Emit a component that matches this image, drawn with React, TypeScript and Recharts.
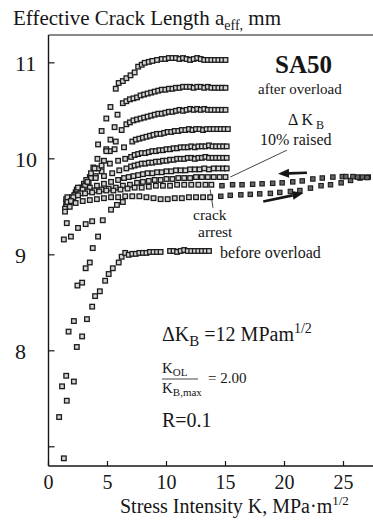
import { ScatterChart, Scatter, XAxis, YAxis, ReferenceLine } from 'recharts'

const kTicks = [0, 5, 10, 15, 20, 25]
const aTicks = [7, 8, 9, 10, 11]

type Pt = [number, number]

// before overload
const beforeOverload: Pt[] = [
  [0.9, 7.31], [1.55, 7.48], [2.15, 7.68], [2.4, 8.04], [2.85, 8.15], [3.26, 8.33], [3.7, 8.46],
  [3.95, 8.57], [4.35, 8.62], [4.8, 8.73], [5.1, 8.8], [5.45, 8.86], [5.95, 8.92], [6.2, 8.98],
  [6.5, 9.02], [6.8, 9.0], [7.1, 9.01], [7.4, 9.01], [7.7, 9.02], [8.0, 9.02], [8.3, 9.02],
  [8.6, 9.03], [8.9, 9.03], [9.2, 9.03], [9.5, 9.03], [10.3, 9.04], [10.6, 9.04], [10.9, 9.03],
  [11.2, 9.04], [11.5, 9.05], [11.8, 9.04], [12.1, 9.04], [12.4, 9.04], [12.7, 9.04], [13.0, 9.04],
  [13.3, 9.04], [13.6, 9.04],
]

// scattered early points
const risePoints: Pt[] = [
  [1.3, 6.88], [1.15, 7.63], [1.5, 7.74], [1.7, 8.2], [2.15, 8.31], [2.45, 8.68], [2.85, 8.71],
  [3.15, 8.86], [3.5, 8.92], [3.75, 9.07], [4.2, 9.19], [1.3, 9.16], [1.9, 9.19], [1.55, 9.33],
  [2.5, 9.28], [3.15, 9.32], [3.7, 9.35], [4.6, 9.36], [5.3, 9.47], [5.8, 9.52], [6.3, 9.55],
]

// after overload curves
const after1: Pt[] = [
  [1.5, 9.5], [2.0, 9.6], [2.6, 9.68], [3.1, 9.74], [3.5, 9.81], [3.8, 9.91], [4.2, 10.15],
  [4.5, 10.29], [4.9, 10.42], [5.25, 10.54], [5.7, 10.73], [5.95, 10.79], [6.3, 10.81], [6.6, 10.84],
  [6.95, 10.87], [7.3, 10.9], [7.6, 10.96], [7.9, 10.98], [8.15, 11.0], [8.5, 11.01], [8.8, 11.02],
  [9.2, 11.03], [9.6, 11.04], [9.9, 11.04], [10.2, 11.05], [10.5, 11.05], [10.8, 11.05], [11.1, 11.04],
  [11.4, 11.05], [11.7, 11.04], [12.0, 11.03], [12.3, 11.04], [12.6, 11.05], [12.9, 11.04], [13.2, 11.03],
  [13.5, 11.03], [13.8, 11.03], [14.1, 11.03], [14.4, 11.03], [14.7, 11.03], [15.0, 11.03],
]
const after2: Pt[] = [
  [1.6, 9.52], [2.2, 9.62], [2.8, 9.7], [3.4, 9.76], [4.0, 9.82], [4.5, 9.87], [4.9, 10.1],
  [5.25, 10.2], [5.6, 10.33], [5.85, 10.46], [6.3, 10.58], [6.6, 10.6], [6.9, 10.62], [7.2, 10.63],
  [7.5, 10.64], [7.8, 10.66], [8.1, 10.67], [8.4, 10.68], [8.7, 10.69], [9.0, 10.7], [9.3, 10.71],
  [9.6, 10.72], [9.9, 10.72], [10.2, 10.73], [10.5, 10.73], [10.8, 10.74], [11.1, 10.74], [11.4, 10.75],
  [11.7, 10.75], [12.0, 10.75], [12.3, 10.74], [12.6, 10.75], [12.9, 10.75], [13.2, 10.74], [13.5, 10.75],
  [13.8, 10.74], [14.1, 10.74], [14.4, 10.74], [14.7, 10.74], [15.0, 10.74],
]
const after3: Pt[] = [
  [1.5, 9.55], [2.3, 9.65], [3.0, 9.74], [3.6, 9.8], [4.2, 9.9], [4.7, 9.98], [5.2, 10.08],
  [5.7, 10.18], [6.2, 10.3], [6.6, 10.36], [6.9, 10.38], [7.2, 10.4], [7.5, 10.41], [7.8, 10.42],
  [8.1, 10.43], [8.4, 10.44], [8.7, 10.45], [9.0, 10.46], [9.3, 10.47], [9.6, 10.47], [9.9, 10.48],
  [10.2, 10.49], [10.5, 10.49], [10.8, 10.5], [11.1, 10.51], [11.4, 10.5], [11.7, 10.51], [12.0, 10.52],
  [12.3, 10.51], [12.6, 10.52], [12.9, 10.51], [13.2, 10.52], [13.5, 10.51], [13.8, 10.51], [14.1, 10.51],
  [14.4, 10.51], [14.7, 10.51], [15.0, 10.51],
]
const after4: Pt[] = [
  [1.6, 9.56], [2.4, 9.66], [3.1, 9.72], [3.6, 9.85], [4.15, 10.0], [4.9, 10.08], [5.6, 10.1],
  [6.4, 10.12], [7.1, 10.18], [7.4, 10.2], [7.7, 10.21], [8.0, 10.22], [8.3, 10.23], [8.6, 10.24],
  [8.9, 10.25], [9.2, 10.26], [9.5, 10.26], [9.8, 10.27], [10.1, 10.28], [10.4, 10.28], [10.7, 10.29],
  [11.0, 10.29], [11.3, 10.3], [11.6, 10.3], [11.9, 10.31], [12.2, 10.3], [12.5, 10.31], [12.8, 10.31],
  [13.1, 10.3], [13.4, 10.31], [13.7, 10.31], [14.0, 10.31], [14.3, 10.31], [14.6, 10.31], [14.9, 10.31],
  [15.2, 10.31],
]
const after5: Pt[] = [
  [1.5, 9.58], [2.4, 9.68], [3.2, 9.78], [3.9, 9.9], [4.5, 9.93], [5.2, 9.95], [5.9, 9.98],
  [6.5, 10.0], [7.0, 10.02], [7.3, 10.04], [7.6, 10.05], [7.9, 10.06], [8.2, 10.06], [8.5, 10.07],
  [8.8, 10.08], [9.1, 10.08], [9.4, 10.09], [9.7, 10.09], [10.0, 10.1], [10.3, 10.1], [10.6, 10.11],
  [10.9, 10.11], [11.2, 10.12], [11.5, 10.12], [11.8, 10.12], [12.1, 10.13], [12.4, 10.12], [12.7, 10.13],
  [13.0, 10.13], [13.3, 10.13], [13.6, 10.14], [13.9, 10.13], [14.2, 10.13], [14.5, 10.13], [14.8, 10.13],
  [15.1, 10.13],
]
const after6: Pt[] = [
  [1.6, 9.6], [2.5, 9.7], [3.3, 9.76], [4.0, 9.8], [4.7, 9.82], [5.4, 9.85], [6.0, 9.88],
  [6.6, 9.9], [7.0, 9.92], [7.3, 9.93], [7.6, 9.94], [7.9, 9.95], [8.2, 9.95], [8.5, 9.96],
  [8.8, 9.96], [9.1, 9.97], [9.4, 9.97], [9.7, 9.98], [10.0, 9.98], [10.3, 9.99], [10.6, 9.99],
  [10.9, 10.0], [11.2, 10.0], [11.5, 10.0], [11.8, 10.01], [12.1, 10.01], [12.4, 10.0], [12.7, 10.01],
  [13.0, 10.01], [13.3, 10.02], [13.6, 10.01], [13.9, 10.01], [14.2, 10.01], [14.5, 10.01], [14.8, 10.01],
  [15.1, 10.01],
]
const after7: Pt[] = [
  [1.5, 9.5], [2.2, 9.62], [2.9, 9.68], [3.5, 9.7], [4.1, 9.72], [4.7, 9.74], [5.3, 9.76],
  [5.9, 9.78], [6.4, 9.8], [6.8, 9.81], [7.2, 9.82], [7.6, 9.83], [8.0, 9.84], [8.4, 9.85],
  [8.8, 9.85], [9.2, 9.86], [9.6, 9.86], [10.0, 9.87], [10.4, 9.87], [10.8, 9.88], [11.2, 9.88],
  [11.6, 9.88], [12.0, 9.89], [12.4, 9.89], [12.8, 9.89], [13.2, 9.9], [13.6, 9.89], [14.0, 9.9],
  [14.4, 9.9], [14.8, 9.9], [15.1, 9.9],
]
const after8: Pt[] = [
  [1.6, 9.55], [2.1, 9.6], [2.7, 9.64], [3.3, 9.66], [3.9, 9.67], [4.5, 9.68], [5.1, 9.69],
  [5.7, 9.7], [6.3, 9.72], [6.9, 9.73], [7.5, 9.75], [8.0, 9.76], [8.5, 9.77], [9.0, 9.78],
  [9.5, 9.78], [10.0, 9.79], [10.5, 9.79], [11.0, 9.8], [11.5, 9.8], [12.0, 9.8], [12.5, 9.81],
  [13.0, 9.81], [13.5, 9.81], [14.0, 9.81], [14.5, 9.81], [15.0, 9.81],
]
const after9: Pt[] = [
  [1.4, 9.48], [1.9, 9.56], [2.5, 9.62], [3.1, 9.64], [3.7, 9.65], [4.3, 9.66], [4.9, 9.67],
  [5.5, 9.67], [6.1, 9.68], [6.7, 9.69], [7.3, 9.7], [7.9, 9.7], [8.5, 9.71], [9.1, 9.72],
  [9.7, 9.72], [10.3, 9.72], [10.9, 9.73], [11.5, 9.73], [12.1, 9.73], [12.7, 9.73], [13.3, 9.73],
  [13.8, 9.73],
]
const after10: Pt[] = [
  [1.4, 9.45], [1.8, 9.5], [2.3, 9.54], [2.9, 9.56], [3.5, 9.57], [4.1, 9.58], [4.7, 9.59],
  [5.3, 9.6], [5.9, 9.6], [6.5, 9.61], [7.1, 9.61], [7.7, 9.61], [8.3, 9.6], [8.9, 9.59],
  [9.5, 9.58], [10.1, 9.58], [10.7, 9.59], [11.3, 9.59], [11.9, 9.6], [12.5, 9.6], [13.1, 9.6],
  [13.7, 9.6],
]

// long excursion to high K
const lowerBranch: Pt[] = [
  [14.6, 9.61], [15.4, 9.62], [16.3, 9.625], [17.1, 9.63], [17.9, 9.635], [18.8, 9.64], [19.6, 9.65],
  [20.5, 9.66], [21.3, 9.67], [22.2, 9.695], [23.1, 9.72], [23.9, 9.73], [24.8, 9.75], [25.6, 9.775],
  [26.4, 9.8], [27.1, 9.81],
]
const upperBranch: Pt[] = [
  [14.7, 9.72], [15.6, 9.73], [16.4, 9.73], [17.3, 9.735], [18.1, 9.74], [19.0, 9.745], [19.8, 9.75],
  [20.7, 9.76], [21.5, 9.77], [22.4, 9.79], [23.2, 9.8], [24.1, 9.81], [24.9, 9.815], [25.2, 9.815],
  [25.8, 9.815], [26.2, 9.81], [26.6, 9.81], [27.0, 9.805],
]

const openSeries = [beforeOverload, risePoints, after1, after2, after3, after4, after5, after6, after7, after8, after9, after10]
const darkSeries = [lowerBranch, upperBranch]

const toRows = (pts: Pt[]) => pts.map(([k, a]) => ({ k, a }))

const serif = "'Liberation Serif', 'Times New Roman', serif"
const ink = '#161616'

const OpenSquare = (p: any) => (
  <rect x={p.cx - 2.3} y={p.cy - 2.3} width={4.6} height={4.6} fill="#d4d4d4" stroke="#1c1c1c" strokeWidth={1.3} />
)
const DarkSquare = (p: any) => (
  <rect x={p.cx - 2.2} y={p.cy - 2.2} width={4.4} height={4.4} fill="#666" stroke="#1c1c1c" strokeWidth={1.1} />
)

const XTick = (p: any) => (
  <text x={p.x} y={p.y + 28} textAnchor="middle" fontFamily={serif} fontSize={20} fill={ink}>
    {p.payload.value}
  </text>
)
const YTick = (p: any) =>
  p.payload.value === 7 ? (
    <g />
  ) : (
    <text x={15} y={p.y + 8} textAnchor="start" fontFamily={serif} fontSize={22} fill={ink}>
      {p.payload.value}
    </text>
  )

const arrowShape = (p: any) => {
  const { x1, y1, x2, y2 } = p
  const dx = x2 - x1
  const dy = y2 - y1
  const len = Math.sqrt(dx * dx + dy * dy)
  const ux = dx / len
  const uy = dy / len
  const hl = 11
  const hw = 4.5
  const bx = x2 - ux * hl
  const by = y2 - uy * hl
  return (
    <g>
      <line x1={x1} y1={y1} x2={bx} y2={by} stroke={ink} strokeWidth={2.6} />
      <polygon
        points={`${x2},${y2} ${bx - uy * hw},${by + ux * hw} ${bx + uy * hw},${by - ux * hw}`}
        fill={ink}
      />
    </g>
  )
}

export default function App() {
  return (
    <div style={{ position: 'absolute', left: 0, top: 0, width: 373, height: 522, background: '#fff' }}>
      <ScatterChart width={373} height={522} margin={{ top: 30, right: 0, bottom: 0, left: 0 }}>
        <XAxis
          xAxisId="b"
          type="number"
          dataKey="k"
          domain={[0, 27.5]}
          ticks={kTicks}
          allowDataOverflow
          height={56}
          tickSize={-5}
          tickMargin={0}
          tick={<XTick />}
          axisLine={{ stroke: ink, strokeWidth: 1.4 }}
          tickLine={{ stroke: ink, strokeWidth: 1.2 }}
        />
        <XAxis
          xAxisId="t"
          orientation="top"
          type="number"
          domain={[0, 27.5]}
          ticks={kTicks}
          allowDataOverflow
          height={5}
          tickSize={-5}
          tick={false}
          axisLine={{ stroke: ink, strokeWidth: 1.2 }}
          tickLine={{ stroke: ink, strokeWidth: 1.1 }}
        />
        <YAxis
          type="number"
          dataKey="a"
          domain={[6.8, 11.29]}
          ticks={aTicks}
          allowDataOverflow
          width={48.5}
          tickSize={-6}
          tick={<YTick />}
          axisLine={{ stroke: ink, strokeWidth: 1.4 }}
          tickLine={{ stroke: ink, strokeWidth: 1.2 }}
        />
        {openSeries.map((s, i) => (
          <Scatter key={'o' + i} xAxisId="b" data={toRows(s)} shape={OpenSquare} isAnimationActive={false} />
        ))}
        {darkSeries.map((s, i) => (
          <Scatter key={'d' + i} xAxisId="b" data={toRows(s)} shape={DarkSquare} isAnimationActive={false} />
        ))}
        {/* annotation leaders */}
        <ReferenceLine xAxisId="b" segment={[{ x: 20.2, y: 10.09 }, { x: 15.4, y: 9.81 }]} stroke={ink} strokeWidth={0.8} />
        <ReferenceLine xAxisId="b" segment={[{ x: 13.7, y: 9.68 }, { x: 13.94, y: 9.49 }]} stroke={ink} strokeWidth={0.8} />
        {/* direction arrows */}
        <ReferenceLine xAxisId="b" segment={[{ x: 21.9, y: 9.855 }, { x: 19.45, y: 9.845 }]} shape={arrowShape} />
        <ReferenceLine xAxisId="b" segment={[{ x: 18.2, y: 9.555 }, { x: 21.6, y: 9.643 }]} shape={arrowShape} />
      </ScatterChart>
      <svg
        width={373}
        height={522}
        style={{ position: 'absolute', left: 0, top: 0, pointerEvents: 'none' }}
        fontFamily={serif}
        fill={ink}
      >
        <text x={13} y={25} fontSize={21}>
          Effective Crack Length a<tspan fontSize={14} dy={5}>eff,</tspan>
          <tspan dy={-5}> mm</tspan>
        </text>
        <text x={275} y={73} fontSize={25} fontWeight="bold">SA50</text>
        <text x={258} y={94} fontSize={15}>after overload</text>
        <text x={288} y={125} fontSize={16}>
          Δ K<tspan fontSize={12} dy={4}> B</tspan>
        </text>
        <text x={260} y={145} fontSize={16}>10% raised</text>
        <text x={193} y={220} fontSize={15.5}>crack</text>
        <text x={198} y={237} fontSize={15.5}>arrest</text>
        <text x={220} y={258} fontSize={16}>before overload</text>
        <text x={162} y={341} fontSize={20}>
          ΔK<tspan fontSize={15} dy={5}>B</tspan>
          <tspan dy={-5}> =12 MPam</tspan>
          <tspan fontSize={14} dy={-8}>1/2</tspan>
        </text>
        <text x={162} y={373} fontSize={15}>
          K<tspan fontSize={11} dy={3}>OL</tspan>
        </text>
        <line x1={162} y1={379} x2={198} y2={379} stroke={ink} strokeWidth={0.8} />
        <text x={162} y={393} fontSize={15}>
          K<tspan fontSize={11} dy={3}>B,max</tspan>
        </text>
        <text x={208} y={383} fontSize={15}>= 2.00</text>
        <text x={162} y={427} fontSize={20}>R=0.1</text>
        <text x={120} y={513} fontSize={20}>
          Stress Intensity K, MPa·m<tspan fontSize={13} dy={-8}>1/2</tspan>
        </text>
      </svg>
    </div>
  )
}
